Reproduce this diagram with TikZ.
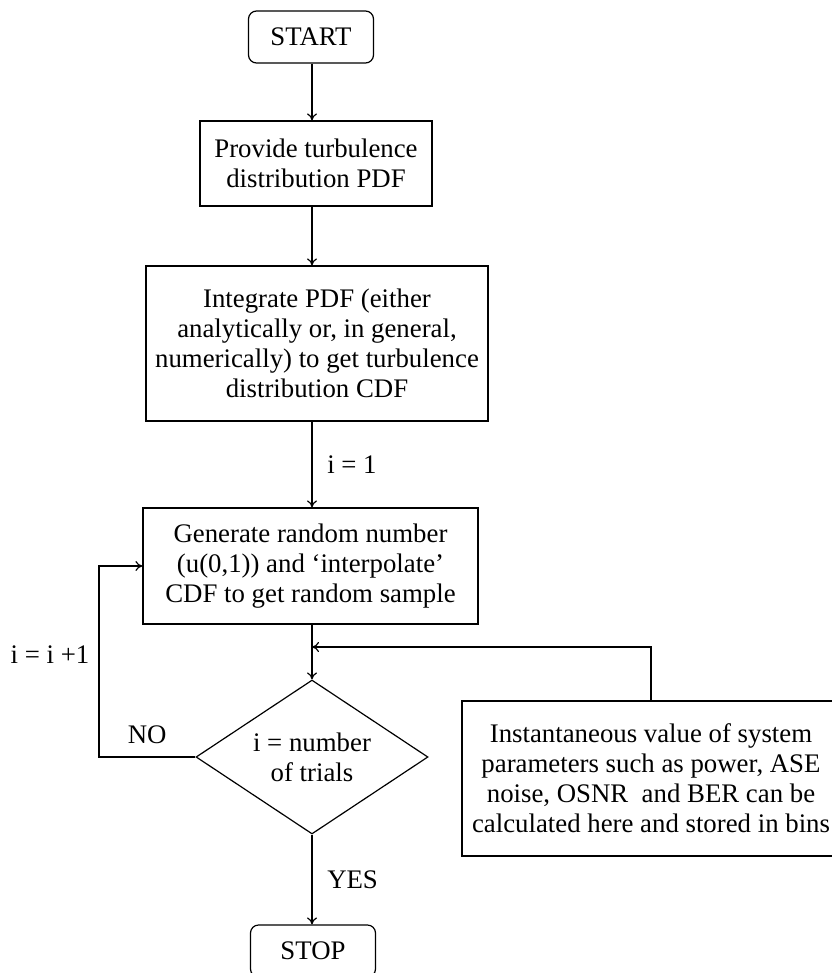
\documentclass[tikz,border=0pt]{standalone}
\usepackage{fontspec}
\setmainfont{Liberation Serif}
\usetikzlibrary{shapes.geometric,arrows.meta}
\begin{document}
\begin{tikzpicture}[x=0.5pt,y=-0.5pt,
        font=\fontsize{13.4}{15}\selectfont,
        every path/.style={line width=0.6pt},
        >={To[length=3.5pt,width=5pt]},
        term/.style={draw,rounded corners=4pt,minimum width=62.5pt,minimum height=26pt},
        proc/.style={draw,align=center,inner sep=0pt},
        test/.style={draw,diamond,aspect=1.5,align=center,inner sep=0pt,minimum width=116pt,minimum height=77pt}]
        \useasboundingbox (0,0) rectangle (831,973);
        % boxes
        \node[term] (start) at (311,37) {START};
        \node[proc,minimum width=116pt,minimum height=42.5pt] (pdf) at (316,163.5)
            {Provide turbulence\\distribution PDF};
        \node[proc,minimum width=171pt,minimum height=77.5pt] (cdf) at (317,343.5)
            {Integrate PDF (either\\analytically or, in general,\\numerically) to get turbulence\\distribution CDF};
        \node[proc,minimum width=167.5pt,minimum height=58pt] (sample) at (310.5,566)
            {Generate random number\\(u(0,1)) and `interpolate'\\CDF to get random sample};
        \node[test] (check) at (312,757) {i = number\\of trials};
        \node[term] (stop) at (313,951) {STOP};
        \node[proc,minimum width=189pt,minimum height=77.5pt] (info) at (651,778.5)
            {Instantaneous value of system\\parameters such as power, ASE\\noise, OSNR\ \ and BER can be\\calculated here and stored in bins};
        % arrows, all on one vertical line
        \coordinate (spine) at (312,0);
        \draw[->] (spine |- start.south) -- (spine |- pdf.north);
        \draw[->] (spine |- pdf.south) -- (spine |- cdf.north);
        \draw[->] (spine |- cdf.south) -- node[right=4pt] {i = 1} (spine |- sample.north);
        \draw[->] (spine |- sample.south) -- (check.north);
        \coordinate (merge) at (spine |- 0,647);
        \draw[->] (info.north) |- (merge);
        \coordinate (back) at (99,757);
        \draw[->] (check.west) -- node[above=3pt] {NO} (back) |- (sample.west);
        \node (incr) at (50,655) {i = i +1};
        \draw[->] (check.south) -- node[right=4pt] {YES} (spine |- stop.north);
\end{tikzpicture}
\end{document}
